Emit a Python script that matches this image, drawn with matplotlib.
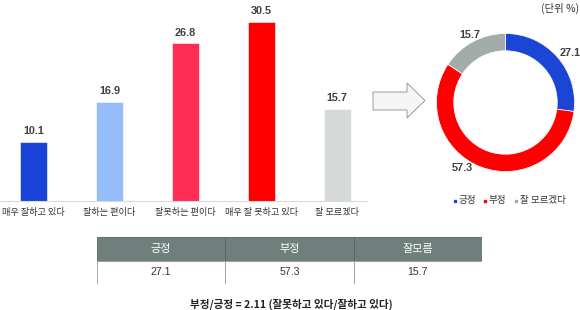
import numpy as np
import matplotlib
matplotlib.use('Agg')
import matplotlib.pyplot as plt
from matplotlib.patches import Polygon

plt.rcParams['font.family'] = ['Noto Sans CJK KR', 'DejaVu Sans']

# data
bar_labels = ['매우 잘하고 있다', '잘하는 편이다', '잘못하는 편이다', '매우 잘 못하고 있다', '잘 모르겠다']
bar_values = [10.1, 16.9, 26.8, 30.5, 15.7]
bar_colors = ['#1a44d8', '#94bdf9', '#ff2d55', '#ff0000', '#d5dad9']

pie_labels = ['긍정', '부정', '잘 모르겠다']
pie_values = [27.1, 57.3, 15.7]
pie_colors = ['#1b45d4', '#ff0000', '#a3acaa']

table_head = ['긍정', '부정', '잘모름']
table_vals = ['27.1', '57.3', '15.7']
footer = '부정/긍정 = 2.11 (잘못하고 있다/잘하고 있다)'

W, H = 580, 310
fig = plt.figure(figsize=(5.8, 3.1), dpi=100)

def px_axes(x0, y0, x1, y1):
    # pixel box (top-left origin) -> figure axes
    return fig.add_axes([x0 / W, 1 - y1 / H, (x1 - x0) / W, (y1 - y0) / H])

num_font = ['Liberation Sans', 'DejaVu Sans']

# bar chart
ax = px_axes(0, 0, 367, 201)
x = np.arange(len(bar_values))
ax.bar(x, bar_values, width=0.355, color=bar_colors, edgecolor='white', linewidth=0.4)
for xi, v in zip(x, bar_values):
    ax.text(xi, v + 0.9, f'{v}', ha='center', va='bottom', fontsize=7.8,
            fontweight='bold', color='#404040', family=num_font)
ax.set_xlim(-0.44, 4.39)
ax.set_ylim(0, 34.2)
ax.set_xticks(x)
ax.set_xticklabels(bar_labels, fontsize=6.6, color='#333333')
ax.tick_params(axis='x', length=0, pad=5)
ax.set_yticks([])
for s in ['top', 'right', 'left']:
    ax.spines[s].set_visible(False)
ax.spines['bottom'].set_color('#d9d9d9')
ax.spines['bottom'].set_linewidth(0.8)

# overlay for arrow and texts
ov = fig.add_axes([0, 0, 1, 1])
ov.set_xlim(0, W)
ov.set_ylim(H, 0)
ov.axis('off')
arrow = Polygon([(373, 92), (407, 92), (407, 83), (425, 100.5), (407, 118),
                 (407, 110), (373, 110)], closed=True,
                facecolor='#f4f5f5', edgecolor='#8c8c8c', linewidth=0.6)
ov.add_patch(arrow)
ov.text(579, 8, '(단위 %)', ha='right', va='center', fontsize=7.5, color='#333333')
ov.text(291, 304, footer, ha='center', va='center', fontsize=7.6,
        fontweight='bold', color='#222222')

# donut
pa = px_axes(436.5, 33.5, 574.5, 171.5)
wedges, _ = pa.pie(pie_values, colors=pie_colors, startangle=90, counterclock=False,
                   radius=1, wedgeprops=dict(width=0.25, edgecolor='white', linewidth=0.5))
pa.set_xlim(-1, 1)
pa.set_ylim(-1, 1)
pa.set_aspect('equal')
label_pos = [(0.935, 0.717), (-0.62, -0.95), (-0.51, 0.98)]
for (lx, ly), v in zip(label_pos, pie_values):
    pa.text(lx, ly, f'{v}', ha='center', va='center', fontsize=7.8,
            fontweight='bold', color='#404040', family=num_font)

# legend
leg_x = [455, 485, 516]
for lx, lab, c in zip(leg_x, pie_labels, pie_colors):
    ov.plot(lx, 200.5, marker='s', markersize=2, color=c, linestyle='none')
    ov.text(lx + 3.5, 200.5, lab, ha='left', va='center', fontsize=6.9, color='#333333')

# table
ta = px_axes(97, 237, 482, 284)
ta.set_xlim(0, 3)
ta.set_ylim(2, 0)
ta.axis('off')
for i, (h, v) in enumerate(zip(table_head, table_vals)):
    ta.add_patch(plt.Rectangle((i, 0), 1, 1, facecolor='#6f7f7c', edgecolor='#55625f', linewidth=0.6))
    ta.add_patch(plt.Rectangle((i, 1), 1, 1, facecolor='white', edgecolor='#9a9a9a', linewidth=0.6))
    ta.text(i + 0.5, 0.5, h, ha='center', va='center', fontsize=8, color='white')
    ta.text(i + 0.5, 1.5, v, ha='center', va='center', fontsize=7.6, color='#333333', family=num_font)

fig.savefig('out.png', dpi=100)
